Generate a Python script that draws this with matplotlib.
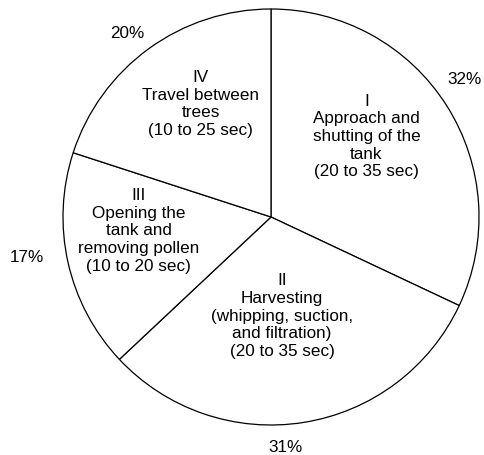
import numpy as np
import matplotlib
matplotlib.use("Agg")
import matplotlib.pyplot as plt

phases = ["I", "II", "III", "IV"]
descriptions = [
    "Approach and\nshutting of the\ntank\n(20 to 35 sec)",
    "Harvesting\n(whipping, suction,\nand filtration)\n(20 to 35 sec)",
    "Opening the\ntank and\nremoving pollen\n(10 to 20 sec)",
    "Travel between\ntrees\n(10 to 25 sec)",
]
shares = [32, 31, 17, 20]

# layout tweaks (angle offset in degrees clockwise, radial distance)
label_offsets = [(-7.7, 0.60), (2.6, 0.48), (6.6, 0.64), (4.0, 0.64)]
pct_offsets = [(-3.0, 1.14), (5.4, 1.11), (3.3, 1.19), (-2.0, 1.12)]

W, H = 484, 455
cx, cy, R = 271, 217, 208

fig = plt.figure(figsize=(W / 100, H / 100), dpi=100)
ax = fig.add_axes([0, 0, 1, 1])
plt.rcParams['font.family'] = ['Liberation Sans', 'DejaVu Sans']

wedges, _ = ax.pie(shares, startangle=90, counterclock=False, radius=1,
                   colors=["white"] * 4,
                   wedgeprops=dict(edgecolor="black", linewidth=0.9))

ax.set_xlim(-cx / R, (W - cx) / R)
ax.set_ylim(-(H - cy) / R, cy / R)
ax.set_aspect('equal', adjustable='box')
ax.axis('off')

for w, ph, desc, s, lo, po in zip(wedges, phases, descriptions, shares,
                                  label_offsets, pct_offsets):
    mid = 0.5 * (w.theta1 + w.theta2)  # degrees, counterclockwise from +x
    a = np.deg2rad(mid - lo[0])
    ax.text(lo[1] * np.cos(a), lo[1] * np.sin(a), ph + "\n" + desc,
            ha="center", va="center", fontsize=12.3, linespacing=1.22,
            family=['Liberation Sans', 'DejaVu Sans'])
    b = np.deg2rad(mid - po[0])
    ax.text(po[1] * np.cos(b), po[1] * np.sin(b), f"{s}%",
            ha="center", va="center", fontsize=12.3,
            family=['Liberation Sans', 'DejaVu Sans'])

fig.savefig("out.png", dpi=100)
